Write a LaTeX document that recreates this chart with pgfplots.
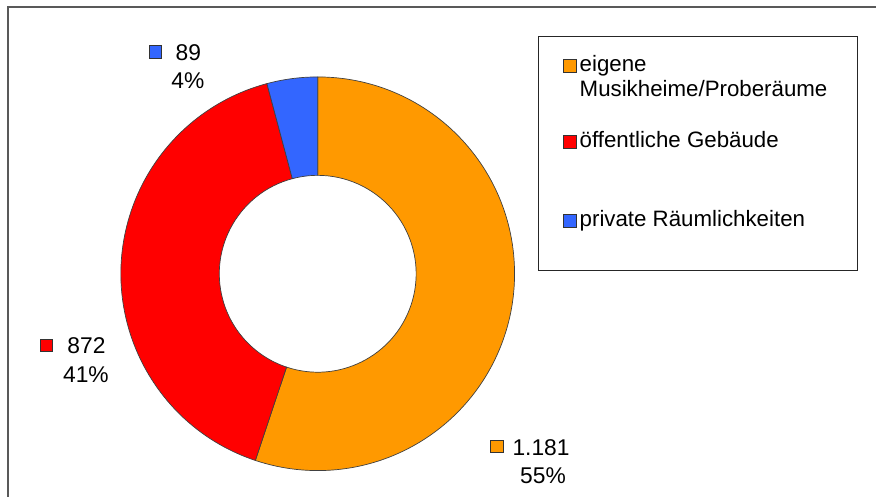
\documentclass[border=0pt]{standalone}
\usepackage{pgfplots}
\pgfplotsset{compat=1.18}
\usepackage{fontspec}
\setmainfont{Liberation Sans}
\definecolor{cOr}{RGB}{255,153,0}
\definecolor{cRd}{RGB}{255,0,0}
\definecolor{cBl}{RGB}{51,102,255}
\newcommand\donutseg[3]{\filldraw[fill=#3, draw=black!75, line width=0.7pt]
  ([shift={(#1:197pt)}]C) arc[start angle=#1, end angle=#2, radius=197pt]
  -- ([shift={(#2:98.5pt)}]C) arc[start angle=#2, end angle=#1, radius=98.5pt] -- cycle;}
\newcommand\keysq[3]{\filldraw[fill=#3, draw=black!80, line width=0.6pt] (axis cs:#1,#2) rectangle (axis cs:#1+12.5,#2+12.5);}
\begin{document}
\begin{tikzpicture}
\pgfmathsetmacro{\vA}{1181}
\pgfmathsetmacro{\vB}{872}
\pgfmathsetmacro{\vC}{89}
\pgfmathsetmacro{\tot}{\vA+\vB+\vC}
\pgfmathsetmacro{\aA}{90}
\pgfmathsetmacro{\aB}{90-360*(\vA/\tot)}
\pgfmathsetmacro{\aC}{\aB-360*(\vB/\tot)}
\pgfmathsetmacro{\aD}{\aC-360*(\vC/\tot)}
\begin{axis}[hide axis, scale only axis, width=877pt, height=497pt,
  xmin=0, xmax=877, ymin=0, ymax=497, clip=false]
\path (axis cs:0,0) rectangle (axis cs:877,497);
\draw[line width=1.5pt, color=black!65] (axis cs:8,0) -- (axis cs:8,490) -- (axis cs:877,490);
\coordinate (C) at (axis cs:318,223);
\donutseg{\aA}{\aB}{cOr}
\donutseg{\aB}{\aC}{cRd}
\donutseg{\aC}{\aD}{cBl}
% data labels
\keysq{149}{439}{cBl}
\node[anchor=base, font=\fontsize{22.8}{26}\selectfont, inner sep=0pt] at (axis cs:188.5,436) {89};
\node[anchor=base, font=\fontsize{22.8}{26}\selectfont, inner sep=0pt] at (axis cs:188,408) {4\%};
\keysq{40}{145}{cRd}
\node[anchor=base, font=\fontsize{22.8}{26}\selectfont, inner sep=0pt] at (axis cs:86.5,143) {872};
\node[anchor=base, font=\fontsize{22.8}{26}\selectfont, inner sep=0pt] at (axis cs:86,114) {41\%};
\keysq{491}{44}{cOr}
\node[anchor=base, font=\fontsize{22.8}{26}\selectfont, inner sep=0pt] at (axis cs:541.5,41) {1.181};
\node[anchor=base, font=\fontsize{22.8}{26}\selectfont, inner sep=0pt] at (axis cs:543.5,13) {55\%};
% legend
\draw[line width=1pt, color=black!85] (axis cs:539,226) rectangle (axis cs:858,460);
\keysq{564}{425}{cOr}
\node[anchor=base west, font=\fontsize{22.3}{25}\selectfont, inner sep=0pt] at (axis cs:580,425) {eigene};
\node[anchor=base west, font=\fontsize{22.3}{25}\selectfont, inner sep=0pt] at (axis cs:580,400) {Musikheime/Proberäume};
\keysq{564}{349}{cRd}
\node[anchor=base west, font=\fontsize{22.3}{25}\selectfont, inner sep=0pt] at (axis cs:580,349) {öffentliche Gebäude};
\keysq{564}{270}{cBl}
\node[anchor=base west, font=\fontsize{22.3}{25}\selectfont, inner sep=0pt] at (axis cs:580,270) {private Räumlichkeiten};
\end{axis}
\end{tikzpicture}
\end{document}
